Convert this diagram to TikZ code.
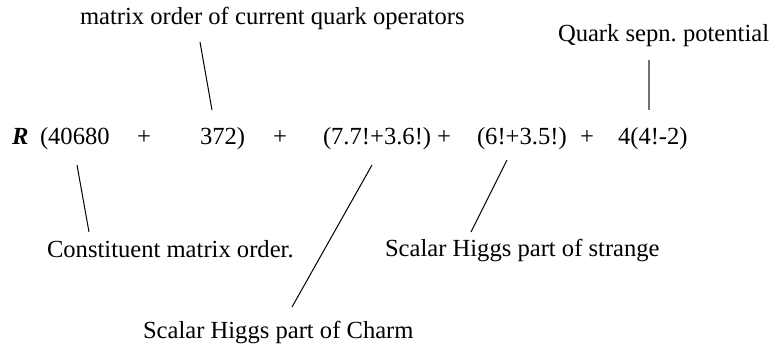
\documentclass[tikz,border=0pt]{standalone}
\usepackage{fontspec}
\setmainfont{Liberation Serif}
\frenchspacing
\begin{document}
\begin{tikzpicture}[x=0.5pt,y=-0.5pt,
  txt/.style={inner sep=0pt,outer sep=0pt,anchor=base west,font=\fontsize{12.3pt}{14pt}\selectfont},
  ctxt/.style={inner sep=0pt,outer sep=0pt,anchor=base,font=\fontsize{12.3pt}{14pt}\selectfont},
  conn/.style={draw=black,line width=0.5pt},
  gconn/.style={draw=black!55,line width=0.65pt}]
\useasboundingbox (0,0) rectangle (769,343);
% formula
\node[txt] (R) at (12,144) {\textbf{\textit{R}}};
\node[txt] (a) at (40,144) {(40680};
\node[ctxt] (p1) at (144,144) {+};
\node[txt] (b) at (200,144) {372)};
\node[ctxt] (p2) at (280,144) {+};
\node[txt] (c) at (323,144) {(7.7!+3.6!)};
\node[ctxt] (p3) at (444,144) {+};
\node[txt] (d) at (477,144) {(6!+3.5!)};
\node[ctxt] (p4) at (587,144) {+};
\node[txt] (e) at (618,144) {4(4!-2)};
% labels
\node[txt] (lmat) at (80,24) {matrix order of current quark operators};
\node[txt] (lquark) at (558,41) {Quark sepn. potential};
\node[txt] (lcons) at (47,257) {Constituent matrix order.};
\node[txt] (lstr) at (385,256) {Scalar Higgs part of strange};
\node[txt] (lcharm) at (143,338) {Scalar Higgs part of Charm};
% connector end points
\coordinate (m1) at (200,42);  \coordinate (m2) at (212,110);
\coordinate (q1) at (649,60);  \coordinate (q2) at (649,110);
\coordinate (k1) at (77,165);  \coordinate (k2) at (89,232);
\coordinate (h1) at (372,165); \coordinate (h2) at (292,307);
\coordinate (s1) at (507,160); \coordinate (s2) at (471,232);
\draw[conn] (m1) -- (m2);
\draw[gconn] (q1) -- (q2);
\draw[conn] (k1) -- (k2);
\draw[conn] (h1) -- (h2);
\draw[conn] (s1) -- (s2);
\end{tikzpicture}
\end{document}
